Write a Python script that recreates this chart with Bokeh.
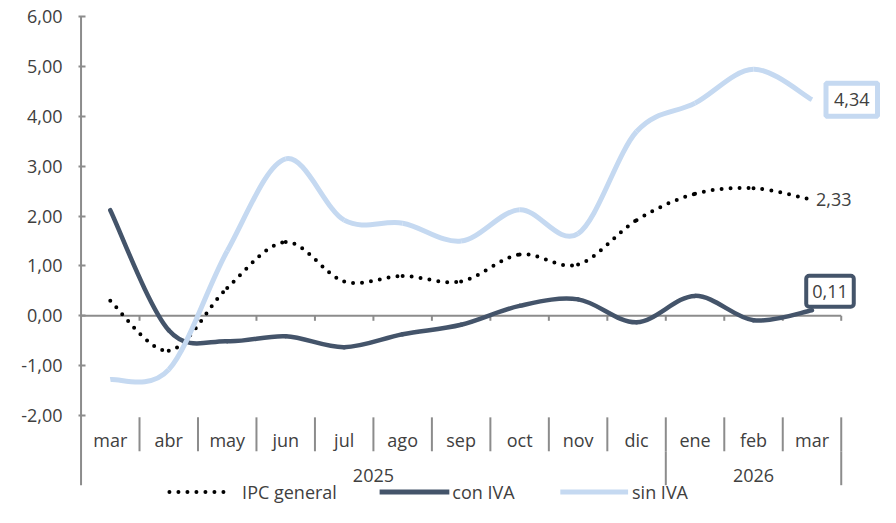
from bokeh.plotting import figure
from bokeh.models import Range1d, FixedTicker, ColumnDataSource, Label
from bokeh.core.properties import value
from bokeh.embed import file_html
from bokeh.resources import INLINE

# ---------------- data ----------------
months = ["mar", "abr", "may", "jun", "jul", "ago", "sep", "oct", "nov", "dic", "ene", "feb", "mar"]
years = ["2025", "2026"]
year_span = [10, 3]
ipc_general = [0.30, -0.70, 0.56, 1.48, 0.69, 0.80, 0.69, 1.23, 1.03, 1.92, 2.45, 2.56, 2.33]
con_iva = [2.12, -0.29, -0.51, -0.41, -0.63, -0.37, -0.18, 0.20, 0.33, -0.13, 0.40, -0.09, 0.11]
sin_iva = [-1.28, -1.08, 1.30, 3.15, 1.92, 1.86, 1.50, 2.13, 1.65, 3.70, 4.27, 4.95, 4.34]
series_names = ["IPC general", "con IVA", "sin IVA"]
y_ticks = [-2, -1, 0, 1, 2, 3, 4, 5, 6]
y_tick_labels = ["-2,00", "-1,00", "0,00", "1,00", "2,00", "3,00", "4,00", "5,00", "6,00"]

# ---------------- style ----------------
FONT = "Open Sans"
TXT = "#404040"
GRAY = "#8c8c8c"
C_IPC = "#000000"
C_CON = "#44546A"
C_SIN = "#C5D9F1"
FS = "18px"

W, H = 880, 507
SX = W / 896.0
SY = H / 523.0
PX_X = 59.54 * SX          # px per category
PX_Y = 51.375 * SY         # px per unit
LEFT = 78
AXIS_X = 82 * SX           # axis line pixel in figure
ZERO_Y = 325.25 * SY       # zero line pixel in figure
TOP = 16
pad_x = (AXIS_X - LEFT) / PX_X
x_end = (W - AXIS_X) / PX_X
y_top = (ZERO_Y - TOP) / PX_Y
y_bot = -(H - ZERO_Y) / PX_Y


def py(ref_px):
    # reference pixel row -> data y
    return (325.25 - ref_px) / 51.375


def lx(ref_px):
    # reference pixel column -> data x
    return (ref_px - 82) / 59.54


p = figure(width=W, height=H, output_backend="svg", toolbar_location=None,
           x_range=Range1d(-pad_x, x_end), y_range=Range1d(y_bot, y_top),
           x_axis_location=None,
           min_border_left=LEFT, min_border_top=TOP, min_border_right=0, min_border_bottom=0)
p.outline_line_color = None
p.grid.visible = False
p.background_fill_color = "white"
p.border_fill_color = "white"

ya = p.yaxis[0]
ya.ticker = FixedTicker(ticks=y_ticks)
ya.major_label_overrides = {t: l for t, l in zip(y_ticks, y_tick_labels)}
ya.axis_line_color = None
ya.major_tick_line_color = GRAY
ya.major_tick_line_width = 2
ya.major_tick_in = 7
ya.major_tick_out = 0
ya.minor_tick_line_color = None
ya.major_label_standoff = 16
ya.major_label_text_font = FONT
ya.major_label_text_font_size = FS
ya.major_label_text_color = TXT

n = len(months)
xc = [i + 0.5 for i in range(n)]

# axis line (vertical), zero line and its ticks
p.segment(x0=[0], y0=[6], x1=[0], y1=[py(500)], line_color=GRAY, line_width=2)
p.segment(x0=[0], y0=[0], x1=[n], y1=[0], line_color=GRAY, line_width=2)
bnd = list(range(1, n + 1))
p.segment(x0=bnd, y0=[0] * len(bnd), x1=bnd, y1=[-5 / PX_Y] * len(bnd), line_color=GRAY, line_width=2)

# category table
p.segment(x0=bnd, y0=[py(430)] * len(bnd), x1=bnd, y1=[py(465)] * len(bnd), line_color=GRAY, line_width=2)
yb = []
acc = 0
year_centers = []
for s in year_span:
    year_centers.append(acc + s / 2)
    acc += s
    yb.append(acc)
p.segment(x0=yb, y0=[py(465)] * len(yb), x1=yb, y1=[py(500)] * len(yb), line_color=GRAY, line_width=2)
p.text(x=xc, y=[py(453)] * n, text=months, text_align="center", text_baseline="middle",
       text_font=value(FONT), text_font_size=FS, text_color=TXT)
p.text(x=year_centers, y=[py(490)] * len(years), text=years, text_align="center", text_baseline="middle",
       text_font=value(FONT), text_font_size=FS, text_color=TXT)


def smooth(ys):
    m = len(ys)
    d = dict(x0=[], y0=[], x1=[], y1=[], cx0=[], cy0=[], cx1=[], cy1=[])
    for i in range(m - 1):
        a = max(i - 1, 0)
        b = min(i + 2, m - 1)
        d["x0"].append(xc[i]); d["y0"].append(ys[i])
        d["x1"].append(xc[i + 1]); d["y1"].append(ys[i + 1])
        d["cx0"].append(xc[i] + (xc[i + 1] - xc[a]) / 6)
        d["cy0"].append(ys[i] + (ys[i + 1] - ys[a]) / 6)
        d["cx1"].append(xc[i + 1] - (xc[b] - xc[i]) / 6)
        d["cy1"].append(ys[i + 1] - (ys[b] - ys[i]) / 6)
    return ColumnDataSource(d)


p.bezier(x0="x0", y0="y0", x1="x1", y1="y1", cx0="cx0", cy0="cy0", cx1="cx1", cy1="cy1",
         source=smooth(ipc_general), line_color=C_IPC, line_width=4, line_dash="0 9", line_cap="round")
p.bezier(x0="x0", y0="y0", x1="x1", y1="y1", cx0="cx0", cy0="cy0", cx1="cx1", cy1="cy1",
         source=smooth(con_iva), line_color=C_CON, line_width=4.5, line_cap="round")
p.bezier(x0="x0", y0="y0", x1="x1", y1="y1", cx0="cx0", cy0="cy0", cx1="cx1", cy1="cy1",
         source=smooth(sin_iva), line_color=C_SIN, line_width=5, line_cap="butt")

# end labels
p.text(x=[xc[-1]], y=[ipc_general[-1]], text=[f"{ipc_general[-1]:.2f}".replace(".", ",")],
       x_offset=4, text_align="left", text_baseline="middle",
       text_font=value(FONT), text_font_size=FS, text_color=TXT)
p.add_layout(Label(x=xc[-1], y=sin_iva[-1], text=f"{sin_iva[-1]:.2f}".replace(".", ","),
                   x_offset=14, text_align="left", text_baseline="middle",
                   text_font=FONT, text_font_size=FS, text_color=TXT,
                   background_fill_color="white", border_line_color=C_SIN, border_line_width=5,
                   padding=dict(left=8, right=8, top=10, bottom=10)))
p.add_layout(Label(x=xc[-1], y=con_iva[-1], text=f"{con_iva[-1]:.2f}".replace(".", ","),
                   x_offset=18, y_offset=19, text_align="center", text_baseline="middle",
                   text_font=FONT, text_font_size=FS, text_color=TXT,
                   background_fill_color="white", border_line_color=C_CON, border_line_width=4,
                   padding=dict(left=6, right=6, top=9, bottom=9), border_radius=3))

# legend
ly = py(507)
p.line(x=[lx(172), lx(232)], y=[ly, ly], line_color=C_IPC, line_width=4, line_dash="0 9", line_cap="round")
p.line(x=[lx(386), lx(457)], y=[ly, ly], line_color=C_CON, line_width=5)
p.line(x=[lx(570), lx(639)], y=[ly, ly], line_color=C_SIN, line_width=5)
p.text(x=[lx(246), lx(460), lx(643)], y=[ly] * 3, text=series_names,
       text_align="left", text_baseline="middle",
       text_font=value(FONT), text_font_size=FS, text_color=TXT)

open("out.html", "w").write(file_html(p, INLINE))
